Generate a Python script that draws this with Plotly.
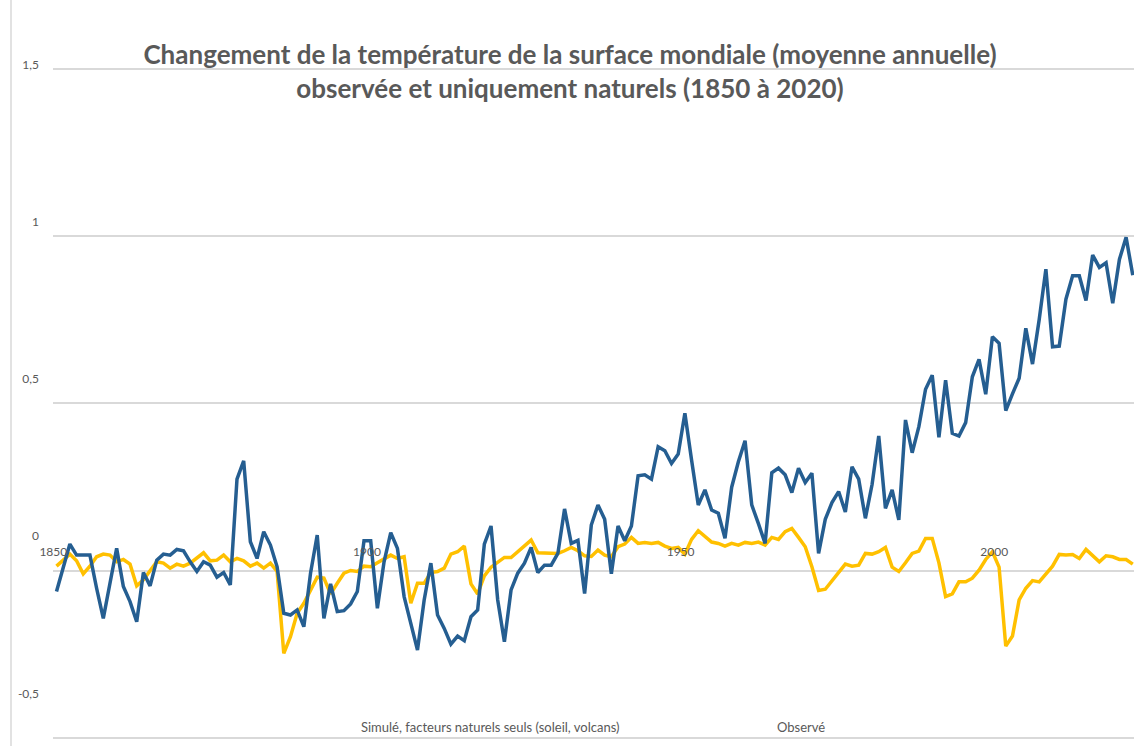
import plotly.graph_objects as go

# ---------------- data ----------------
years = list(range(1850, 2012))

observed = [
    -0.063, 0.008, 0.079, 0.046, 0.046, 0.046, -0.053, -0.143, -0.038, 0.066,
    -0.048, -0.093, -0.153, -0.006, -0.046, 0.031, 0.049, 0.046, 0.063, 0.059,
    0.026, -0.003, 0.026, 0.016, -0.020, -0.006, -0.043, 0.273, 0.328, 0.086,
    0.036, 0.116, 0.076, 0.011, -0.128, -0.133, -0.118, -0.168, -0.008, 0.106,
    -0.143, -0.040, -0.123, -0.120, -0.100, -0.063, 0.089, 0.089, -0.113, 0.026,
    0.113, 0.066, -0.078, -0.158, -0.238, -0.088, 0.022, -0.133, -0.173, -0.220,
    -0.196, -0.210, -0.138, -0.118, 0.079, 0.133, -0.088, -0.213, -0.058, -0.008,
    0.022, 0.069, -0.006, 0.016, 0.016, 0.051, 0.184, 0.081, 0.090, -0.069,
    0.136, 0.196, 0.153, -0.010, 0.133, 0.089, 0.133, 0.283, 0.286, 0.273,
    0.370, 0.358, 0.320, 0.348, 0.470, 0.330, 0.196, 0.241, 0.181, 0.171,
    0.096, 0.249, 0.325, 0.388, 0.196, 0.140, 0.081, 0.292, 0.306, 0.286,
    0.233, 0.306, 0.263, 0.291, 0.051, 0.153, 0.203, 0.236, 0.175, 0.310,
    0.273, 0.156, 0.257, 0.402, 0.186, 0.241, 0.151, 0.450, 0.352, 0.430,
    0.542, 0.584, 0.398, 0.569, 0.410, 0.402, 0.442, 0.579, 0.631, 0.527,
    0.699, 0.679, 0.478, 0.528, 0.575, 0.724, 0.617, 0.750, 0.901, 0.669,
    0.671, 0.811, 0.881, 0.881, 0.807, 0.943, 0.906, 0.920, 0.799, 0.930,
    0.996, 0.883,
]

natural = [
    0.013, 0.031, 0.049, 0.029, -0.010, 0.013, 0.041, 0.049, 0.046, 0.026,
    0.033, 0.019, -0.046, -0.028, -0.003, 0.026, 0.022, 0.007, 0.019, 0.013,
    0.022, 0.036, 0.053, 0.029, 0.031, 0.046, 0.026, 0.036, 0.029, 0.013,
    0.022, 0.007, 0.022, -0.003, -0.248, -0.198, -0.128, -0.098, -0.056, -0.020,
    -0.023, -0.070, -0.038, -0.008, 0.000, -0.003, 0.013, 0.011, 0.023, 0.036,
    0.046, 0.036, 0.041, -0.098, -0.038, -0.038, -0.006, -0.003, 0.007, 0.049,
    0.056, 0.073, -0.040, -0.070, -0.016, 0.010, 0.023, 0.039, 0.039, 0.056,
    0.073, 0.091, 0.053, 0.053, 0.051, 0.051, 0.059, 0.069, 0.059, 0.044,
    0.042, 0.061, 0.046, 0.041, 0.071, 0.079, 0.099, 0.081, 0.084, 0.081,
    0.084, 0.073, 0.066, 0.069, 0.049, 0.093, 0.119, 0.101, 0.085, 0.081,
    0.073, 0.081, 0.076, 0.084, 0.081, 0.085, 0.076, 0.099, 0.093, 0.116,
    0.126, 0.099, 0.071, 0.011, -0.060, -0.056, -0.030, -0.008, 0.019, 0.013,
    0.016, 0.051, 0.049, 0.056, 0.069, 0.010, -0.003, 0.023, 0.051, 0.058,
    0.096, 0.096, 0.023, -0.078, -0.070, -0.034, -0.034, -0.023, 0.001, 0.033,
    0.056, 0.010, -0.226, -0.196, -0.088, -0.053, -0.030, -0.034, -0.010, 0.013,
    0.048, 0.046, 0.048, 0.036, 0.063, 0.043, 0.026, 0.044, 0.041, 0.033,
    0.033, 0.019,
]

x_tick_vals = [1850, 1900, 1950, 2000]
x_tick_text = ["1850", "1900", "1950", "2000"]
y_tick_vals = [-0.5, 0, 0.5, 1, 1.5]
y_tick_text = ["-0,5", "0", "0,5", "1", "1,5"]

series_names = ["Simulé, facteurs naturels seuls (soleil, volcans)", "Observé"]
title_lines = [
    "Changement de la température de la surface mondiale (moyenne annuelle)",
    "observée et uniquement naturels (1850 à 2020)",
]

# ---------------- style ----------------
BLUE = "#255E91"
YELLOW = "#FFC000"
TXT = "#595959"
GRID = "#D9D9D9"
FONT = "Lato, Calibri, sans-serif"

W, H = 1134, 746
ML, MR, MT, MB = 53, 0, 40, 0
plot_w = W - ML - MR
plot_h = H - MT - MB

# data scale (pixels)
px_per_year = 6.685
x_first = 56.5            # pixel of 1850
px_per_unit = 334.5
y_zero = 570.5            # pixel of 0

xmin = 1850 - (x_first - ML) / px_per_year
xmax = xmin + plot_w / px_per_year
ytop = (y_zero - MT) / px_per_unit
ybot = (y_zero - H + MB) / px_per_unit

# label scale (text layer slightly smaller)
lab_px_year = 6.273
lab_x1850 = 53.3
x2min = 1850 - (lab_x1850 - ML) / lab_px_year
x2max = x2min + plot_w / lab_px_year
lab_px_unit = 314.15
lab_y15 = 65.0
y2top = 1.5 + (lab_y15 - MT) / lab_px_unit
y2bot = y2top - plot_h / lab_px_unit

fig = go.Figure()
fig.add_trace(go.Scatter(x=years, y=natural, mode="lines", name=series_names[0],
                         line=dict(color=YELLOW, width=3.5), showlegend=False))
fig.add_trace(go.Scatter(x=years, y=observed, mode="lines", name=series_names[1],
                         line=dict(color=BLUE, width=3.5), showlegend=False))
# carrier trace for the label axes
fig.add_trace(go.Scatter(x=[1900], y=[0], mode="markers", xaxis="x2", yaxis="y2",
                         marker=dict(opacity=0), showlegend=False, hoverinfo="skip"))

label_axis_y = 543.0
fig.update_layout(
    width=W, height=H,
    margin=dict(l=ML, r=MR, t=MT, b=MB),
    paper_bgcolor="white", plot_bgcolor="white",
    font=dict(family=FONT, color=TXT, size=12),
    showlegend=False,
    xaxis=dict(range=[xmin, xmax], showgrid=False, showticklabels=False,
               zeroline=False, showline=False, ticks=""),
    yaxis=dict(range=[ybot, ytop], tickvals=y_tick_vals, showgrid=True,
               gridcolor=GRID, gridwidth=1.5, showticklabels=False,
               zeroline=False, showline=False, ticks=""),
    xaxis2=dict(range=[x2min, x2max], overlaying="x", anchor="free",
                position=(H - MB - label_axis_y) / plot_h,
                side="bottom", tickvals=x_tick_vals, ticktext=x_tick_text,
                showgrid=False, zeroline=False, showline=False, ticks="",
                tickfont=dict(family=FONT, size=12, color=TXT)),
    yaxis2=dict(range=[y2bot, y2top], overlaying="y", anchor="x2", side="left",
                tickvals=y_tick_vals, ticktext=y_tick_text, showgrid=False,
                zeroline=False, showline=False, ticks="", ticklabelstandoff=13,
                tickfont=dict(family=FONT, size=12, color=TXT)),
    title=dict(text="<b>" + title_lines[0] + "</b><br><b>" + title_lines[1] + "</b>",
               x=570 / W, xanchor="center", y=1 - 64 / H, yanchor="middle",
               font=dict(family=FONT, size=26, color=TXT)),
)

# series labels (legend text, no keys)
legend_y = (H - 727) / plot_h
fig.add_annotation(text=series_names[0], xref="paper", yref="paper",
                   x=(490.5 - ML) / plot_w, y=legend_y,
                   xanchor="center", yanchor="middle", showarrow=False,
                   font=dict(family=FONT, size=13, color=TXT))
fig.add_annotation(text=series_names[1], xref="paper", yref="paper",
                   x=(801 - ML) / plot_w, y=legend_y,
                   xanchor="center", yanchor="middle", showarrow=False,
                   font=dict(family=FONT, size=13, color=TXT))

# chart frame left edge
fig.add_shape(type="line", xref="paper", yref="paper",
              x0=(11 - ML) / plot_w, x1=(11 - ML) / plot_w, y0=-0.01, y1=(H - MB + 10) / plot_h,
              line=dict(color=GRID, width=1.5))

fig.write_html(
    "out.html",
    config={"displayModeBar": False},
    post_script="document.body.style.margin='0';document.body.style.overflow='hidden';",
)
